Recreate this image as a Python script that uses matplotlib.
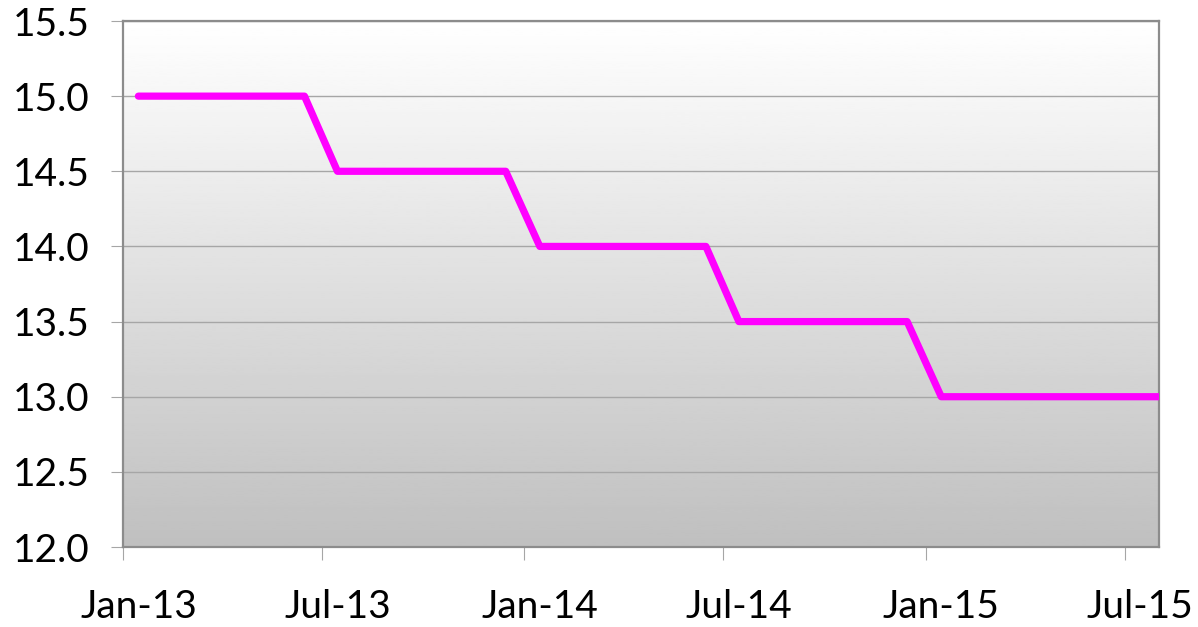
import numpy as np
import pandas as pd
import matplotlib
matplotlib.use('Agg')
import matplotlib.pyplot as plt

plt.rcParams['font.family'] = ['Lato', 'DejaVu Sans']

# monthly values, plotted mid-month (Excel date axis, between tick marks)
months = pd.date_range('2013-01-01', '2015-08-01', freq='MS') + pd.Timedelta(days=14)
rate = [15.0] * 6 + [14.5] * 6 + [14.0] * 6 + [13.5] * 6 + [13.0] * 8
tick_dates = pd.to_datetime(['2013-01-01', '2013-07-01', '2014-01-01',
                             '2014-07-01', '2015-01-01', '2015-07-01'])
tick_labels = ['Jan-13', 'Jul-13', 'Jan-14', 'Jul-14', 'Jan-15', 'Jul-15']

W, H = 1198, 627
fig = plt.figure(figsize=(W / 100, H / 100), dpi=100)
ax = fig.add_axes([123 / W, (H - 547) / H, (1159 - 123) / W, (547 - 21) / H])

# vertical gradient background, white at top to grey at bottom
grad = np.linspace(1.0, 0.75, 256).reshape(-1, 1)
ax.imshow(grad, cmap='gray', vmin=0, vmax=1, aspect='auto',
          extent=[0, 1, 0, 1], transform=ax.transAxes, zorder=0)

ax.plot(months, rate, color='#FF00FF', lw=5.2, solid_joinstyle='round',
        solid_capstyle='round', zorder=3)

ax.set_xlim(pd.Timestamp('2013-01-01'), pd.Timestamp('2015-08-01'))
ax.set_ylim(12.0, 15.5)
ax.set_yticks(np.arange(12.0, 15.51, 0.5))
ax.yaxis.set_major_formatter(matplotlib.ticker.FormatStrFormatter('%.1f'))
# tick marks at month starts, labels centred on the month
ax.set_xticks(tick_dates)
ax.set_xticklabels([])
ax.set_xticks(tick_dates + pd.Timedelta(days=14), minor=True)
ax.set_xticklabels(tick_labels, minor=True)

ax.grid(axis='y', color='#a6a6a6', lw=1.0, zorder=1)
ax.set_axisbelow(True)
for s in ax.spines.values():
    s.set_color('#8c8c8c')
    s.set_linewidth(1.6)

ax.tick_params(axis='y', length=9, width=0.8, color='#a6a6a6', pad=15,
               labelsize=28, labelcolor='black')
ax.tick_params(axis='x', which='major', length=9, width=0.8, color='#a6a6a6')
ax.tick_params(axis='x', which='minor', length=0, pad=30,
               labelsize=28, labelcolor='black')

fig.savefig('out.png', dpi=100)
